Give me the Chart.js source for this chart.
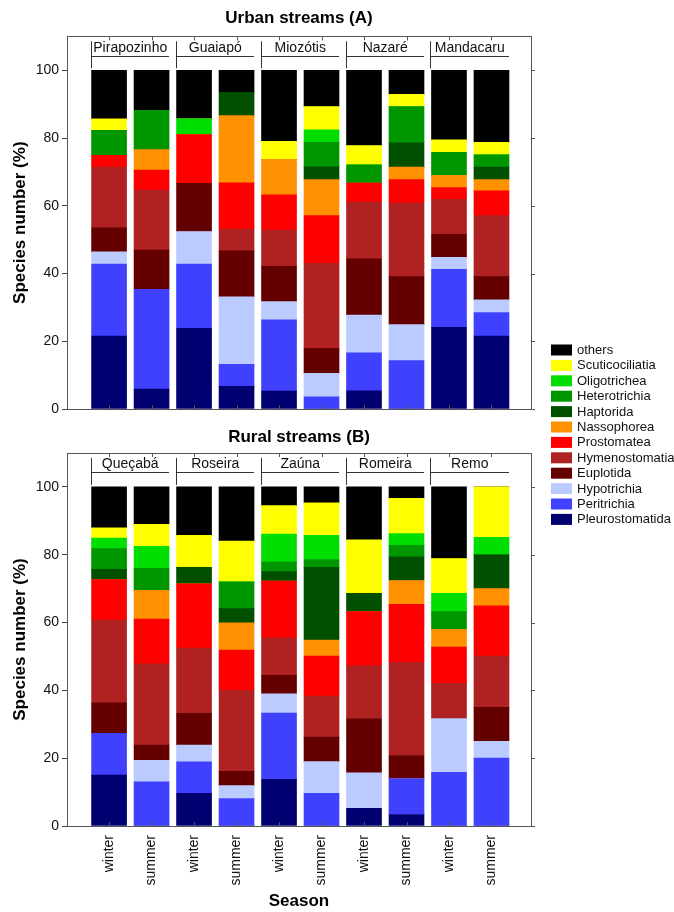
<!DOCTYPE html>
<html>
<head>
<meta charset="utf-8">
<script src="https://cdn.jsdelivr.net/npm/chart.js@4.4.1/dist/chart.umd.min.js"></script>
<style>
  html, body { margin: 0; padding: 0; background: #fff; }
  .layer { position: absolute; left: 0; top: 0; width: 674px; height: 912px; }
  #rural { pointer-events: none; }
</style>
</head>
<body>
<canvas id="urban" class="layer" width="674" height="912"></canvas>
<canvas id="rural" class="layer" width="674" height="912"></canvas>
<script>
// bar labels and stream names
var seasons = ['winter', 'summer', 'winter', 'summer', 'winter', 'summer', 'winter', 'summer', 'winter', 'summer'];
var urbanStreams = ['Pirapozinho', 'Guaiapó', 'Miozótis', 'Nazaré', 'Mandacaru'];
var ruralStreams = ['Queçabá', 'Roseira', 'Zaúna', 'Romeira', 'Remo'];
var taxa = ['Pleurostomatida', 'Peritrichia', 'Hypotrichia', 'Euplotida', 'Hymenostomatia', 'Prostomatea',
            'Nassophorea', 'Haptorida', 'Heterotrichia', 'Oligotrichea', 'Scuticociliatia', 'others'];
var yTicks = [0, 20, 40, 60, 80, 100];

// Urban streams (A) - species number (%)
var urbanPleurostomatida = [21.5, 5.9, 23.8, 6.7, 5.3, 0, 5.4, 0, 24.1, 21.5];
var urbanPeritrichia     = [21.3, 29.4, 19.0, 6.5, 21.0, 3.6, 11.2, 14.3, 17.1, 7.0];
var urbanHypotrichia     = [3.6, 0, 9.6, 19.9, 5.4, 6.9, 11.1, 10.6, 3.6, 3.7];
var urbanEuplotida       = [7.1, 11.6, 14.2, 13.6, 10.4, 7.4, 16.6, 14.2, 6.8, 6.9];
var urbanHymenostomatia  = [17.9, 17.7, 0, 6.4, 10.7, 25.1, 16.8, 21.7, 10.3, 18.0];
var urbanProstomatea     = [3.5, 5.9, 14.4, 13.7, 10.4, 14.1, 5.6, 6.9, 3.5, 7.3];
var urbanNassophorea     = [0, 6.1, 0, 19.8, 10.5, 10.6, 0, 3.7, 3.6, 3.3];
var urbanHaptorida       = [0, 0, 0, 6.9, 0, 3.8, 0, 7.2, 0, 3.7];
var urbanHeterotrichia   = [7.4, 11.6, 0, 0, 0, 7.2, 5.4, 10.7, 6.8, 3.6];
var urbanOligotrichea    = [0, 0, 4.7, 0, 0, 3.7, 0, 0, 0, 0];
var urbanScuticociliatia = [3.4, 0, 0, 0, 5.3, 6.9, 5.7, 3.6, 3.7, 3.7];
var urbanOthers          = [14.3, 11.8, 14.3, 6.5, 21.0, 10.7, 22.2, 7.1, 20.5, 21.3];

// Rural streams (B)
var ruralPleurostomatida = [15.0, 0, 9.6, 0, 13.8, 0, 5.2, 3.4, 0, 0];
var ruralPeritrichia     = [12.3, 13.0, 9.3, 8.1, 19.5, 9.6, 0, 10.5, 15.8, 20.0];
var ruralHypotrichia     = [0, 6.4, 5.0, 3.8, 5.7, 9.4, 10.5, 0, 15.9, 5.0];
var ruralEuplotida       = [9.0, 4.5, 9.3, 4.2, 5.4, 7.2, 15.9, 6.9, 0, 10.0];
var ruralHymenostomatia  = [24.4, 23.9, 19.3, 23.9, 11.1, 12.1, 15.7, 27.5, 10.4, 15.1];
var ruralProstomatea     = [12.0, 13.2, 18.9, 11.9, 16.7, 11.8, 15.9, 17.1, 10.7, 14.8];
var ruralNassophorea     = [0, 8.5, 0, 8.0, 0, 4.7, 0, 7.0, 5.2, 5.1];
var ruralHaptorida       = [3.0, 0, 4.9, 4.2, 2.8, 21.5, 5.4, 7.0, 0, 10.0];
var ruralHeterotrichia   = [6.1, 6.5, 0, 7.9, 2.8, 2.3, 0, 3.4, 5.2, 0];
var ruralOligotrichea    = [3.1, 6.5, 0, 0, 8.3, 7.1, 0, 3.4, 5.4, 5.1];
var ruralScuticociliatia = [3.0, 6.5, 9.4, 12.0, 8.4, 9.6, 15.8, 10.4, 10.3, 14.9];
var ruralOthers          = [12.1, 11.0, 14.3, 16.0, 5.5, 4.7, 15.6, 3.4, 21.1, 0];

var colors = ['#000070', '#4040ff', '#bbcbff', '#640000', '#b02222', '#ff0000',
              '#ff9000', '#005000', '#009600', '#00dd00', '#ffff00', '#000000'];

var urbanSeries = [urbanPleurostomatida, urbanPeritrichia, urbanHypotrichia, urbanEuplotida,
  urbanHymenostomatia, urbanProstomatea, urbanNassophorea, urbanHaptorida, urbanHeterotrichia,
  urbanOligotrichea, urbanScuticociliatia, urbanOthers];
var ruralSeries = [ruralPleurostomatida, ruralPeritrichia, ruralHypotrichia, ruralEuplotida,
  ruralHymenostomatia, ruralProstomatea, ruralNassophorea, ruralHaptorida, ruralHeterotrichia,
  ruralOligotrichea, ruralScuticociliatia, ruralOthers];

Chart.defaults.font.family = "'Liberation Sans', Arial, sans-serif";
Chart.defaults.color = '#111';

function makeDatasets(series) {
  return series.map(function (vals, k) {
    return {
      label: taxa[k],
      data: vals.map(function (v, i) { return { x: i, y: v }; }),
      backgroundColor: colors[k],
      borderWidth: 0,
      barThickness: 35
    };
  });
}

// box round the plot, small ticks, stream brackets
var framePlugin = {
  id: 'frame',
  afterDraw: function (chart, args, opts) {
    var ctx = chart.ctx, a = chart.chartArea, x = chart.scales.x, y = chart.scales.y;
    ctx.save();
    ctx.strokeStyle = '#555';
    ctx.lineWidth = 1;
    ctx.strokeRect(Math.round(a.left) + 0.5, Math.round(a.top) + 0.5,
      Math.round(a.right - a.left), Math.round(a.bottom - a.top));
    ctx.beginPath();
    for (var i = 0; i < seasons.length; i++) {
      var px = Math.round(x.getPixelForValue(i)) + 0.5;
      ctx.moveTo(px, a.top); ctx.lineTo(px, a.top + 4);
      ctx.moveTo(px, a.bottom); ctx.lineTo(px, a.bottom - 4);
    }
    yTicks.forEach(function (v) {
      var py = Math.round(y.getPixelForValue(v)) + 0.5;
      ctx.moveTo(a.right, py); ctx.lineTo(a.right + 4, py);
    });
    ctx.stroke();

    var y100 = y.getPixelForValue(100);
    ctx.strokeStyle = '#333';
    ctx.fillStyle = '#111';
    ctx.font = "14px 'Liberation Sans', Arial, sans-serif";
    ctx.textAlign = 'center';
    ctx.textBaseline = 'alphabetic';
    ctx.beginPath();
    opts.streams.forEach(function (name, g) {
      var l = Math.round(x.getPixelForValue(2 * g) - 18.5) + 0.5;
      var r = Math.round(x.getPixelForValue(2 * g + 1) + 17.5);
      var hy = Math.round(y100 - 14.5) + 0.5;
      ctx.moveTo(l, y100 - 29); ctx.lineTo(l, y100 - 2);
      ctx.moveTo(l, hy); ctx.lineTo(r, hy);
      ctx.fillText(name, (l + r) / 2, y100 - 18.5);
    });
    ctx.stroke();
    ctx.restore();
  }
};

// legend for both panels, on the right
var sideLegend = {
  id: 'sideLegend',
  afterDraw: function (chart) {
    var ctx = chart.ctx;
    var ds = chart.data.datasets.slice().reverse();
    ctx.save();
    ctx.font = "13px 'Liberation Sans', Arial, sans-serif";
    ctx.textAlign = 'left';
    ctx.textBaseline = 'middle';
    ds.forEach(function (d, k) {
      var cy = 350 + k * 15.4;
      ctx.fillStyle = d.backgroundColor;
      ctx.fillRect(551, cy - 5.5, 21, 11);
      ctx.fillStyle = '#111';
      ctx.fillText(d.label, 577, cy + 0.5);
    });
    ctx.restore();
  }
};

function makeOptions(title, streams, isBottom) {
  return {
    responsive: false,
    animation: false,
    layout: { padding: isBottom ? { top: 420, right: 143, bottom: 0, left: 0 }
                                : { top: 0, right: 143, bottom: 503, left: 0 } },
    plugins: {
      legend: { display: false },
      tooltip: { enabled: false },
      title: {
        display: true, text: title, fullSize: false, color: '#000',
        font: { size: 17, weight: 'bold' },
        padding: isBottom ? { top: 6.8, bottom: 5.8 } : { top: 8, bottom: 8 }
      },
      frame: { streams: streams }
    },
    scales: {
      x: {
        type: 'linear', stacked: true, offset: false, min: -0.99, max: 9.93,
        grid: { display: false, drawTicks: false }, border: { display: false },
        afterBuildTicks: function (s) { s.ticks = seasons.map(function (_, i) { return { value: i }; }); },
        ticks: {
          display: isBottom, autoSkip: false, minRotation: 90, maxRotation: 90,
          font: { size: 14 }, padding: 9,
          callback: function (v) { return seasons[v]; }
        },
        title: { display: isBottom, text: 'Season', color: '#000', font: { size: 17, weight: 'bold' }, padding: 0 },
        afterFit: function (s) { s.height = isBottom ? 86 : 0; }
      },
      y: {
        stacked: true, min: 0, max: 110,
        afterBuildTicks: function (s) { s.ticks = yTicks.map(function (v) { return { value: v }; }); },
        ticks: { font: { size: 14 }, padding: 3 },
        grid: { drawOnChartArea: false, tickLength: 5, color: '#444' },
        border: { display: false },
        title: { display: true, text: 'Species number (%)', color: '#000',
                 font: { size: 17, weight: 'bold' }, padding: { top: 10, bottom: 0 } },
        afterFit: function (s) { s.width = 67; }
      }
    }
  };
}

new Chart(document.getElementById('urban'), {
  type: 'bar',
  data: { datasets: makeDatasets(urbanSeries) },
  options: makeOptions('Urban streams (A)', urbanStreams, false),
  plugins: [framePlugin]
});

new Chart(document.getElementById('rural'), {
  type: 'bar',
  data: { datasets: makeDatasets(ruralSeries) },
  options: makeOptions('Rural streams (B)', ruralStreams, true),
  plugins: [framePlugin, sideLegend]
});
</script>
</body>
</html>
